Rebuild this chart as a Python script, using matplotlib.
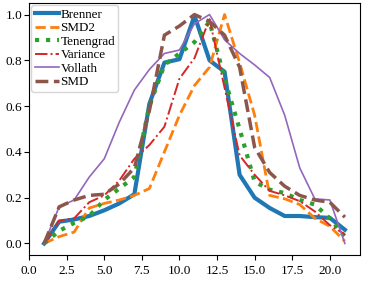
import matplotlib
matplotlib.use('Agg')
import matplotlib.pyplot as plt
import numpy as np

plt.rcParams['font.family'] = ['Liberation Serif', 'DejaVu Serif']

x = list(range(1, 22))

brenner = [0.0, 0.095, 0.105, 0.12, 0.145, 0.175, 0.215, 0.61, 0.79, 0.805, 0.995,
           0.80, 0.75, 0.30, 0.20, 0.155, 0.12, 0.12, 0.115, 0.112, 0.06]
smd2 = [0.0, 0.03, 0.05, 0.155, 0.175, 0.19, 0.21, 0.24, 0.40, 0.56, 0.69,
        0.77, 1.0, 0.79, 0.56, 0.21, 0.195, 0.17, 0.11, 0.075, 0.01]
tenengrad = [0.0, 0.055, 0.09, 0.12, 0.19, 0.24, 0.29, 0.60, 0.78, 0.83, 0.88,
             0.97, 0.72, 0.50, 0.27, 0.235, 0.22, 0.19, 0.17, 0.11, 0.03]
variance = [0.0, 0.10, 0.11, 0.18, 0.21, 0.275, 0.37, 0.43, 0.51, 0.72, 0.81,
            0.98, 0.68, 0.385, 0.30, 0.23, 0.21, 0.185, 0.14, 0.08, 0.04]
vollath = [0.0, 0.16, 0.19, 0.29, 0.37, 0.53, 0.67, 0.76, 0.83, 0.845, 0.96,
           1.0, 0.89, 0.83, 0.78, 0.725, 0.56, 0.33, 0.195, 0.19, 0.0]
smd = [0.0, 0.16, 0.19, 0.21, 0.215, 0.26, 0.33, 0.58, 0.91, 0.95, 1.0,
       0.97, 0.91, 0.77, 0.42, 0.31, 0.25, 0.21, 0.19, 0.18, 0.115]

fig = plt.figure(figsize=(3.68, 2.82), dpi=100)
ax = fig.add_axes([0.079, 0.096, 0.899, 0.893])

ax.plot(x, brenner, color='C0', lw=3, ls='-', label='Brenner')
ax.plot(x, smd2, color='C1', lw=2, ls='--', label='SMD2')
ax.plot(x, tenengrad, color='C2', lw=3, ls=':', label='Tenengrad')
ax.plot(x, variance, color='C3', lw=1.4, ls='-.', label='Variance')
ax.plot(x, vollath, color='C4', lw=1.2, ls='-', label='Vollath')
ax.plot(x, smd, color='C5', lw=2.5, ls='--', label='SMD')

ax.set_xticks(np.arange(0, 21, 2.5))
ax.tick_params(labelsize=9.5, length=3.5, width=0.8)
ax.tick_params(axis='y', pad=1.5)
ax.legend(loc='upper left', fontsize=9.4, labelspacing=0.1, borderaxespad=0.18,
          handlelength=1.84, handletextpad=0.12, borderpad=0.26)

fig.savefig('out.png', dpi=100)
